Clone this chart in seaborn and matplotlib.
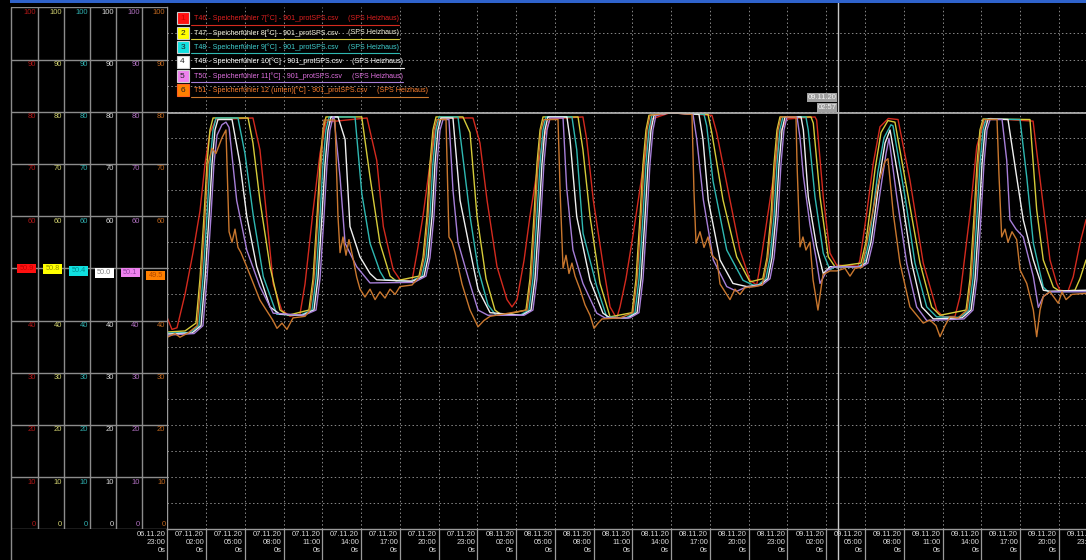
import numpy as np
import pandas as pd
import matplotlib
matplotlib.use("Agg")
import matplotlib.pyplot as plt
import matplotlib.transforms as mtransforms
from matplotlib.patches import Rectangle
import seaborn as sns

# readings taken off the recorder screen
# (hours after 06.11.20 23:00, temperature in degC)
t46 = [(0, 40.5), (0.36, 38.3), (0.75, 38.6), (1.37, 45), (1.99, 53), (2.53, 61), (2.92, 70), (3.30, 76),
       (3.77, 78.5), (6.63, 78.8), (7.17, 72.7), (7.69, 60), (8.20, 47), (8.85, 42), (9.50, 40.8), (10.27, 41.2),
       (10.66, 47), (11.28, 61), (11.82, 72), (12.28, 78), (15.46, 78.8), (16.21, 70.7), (16.72, 58), (17.49, 49.7),
       (18.01, 47.8), (18.94, 47.6), (19.33, 53), (19.79, 60), (20.33, 70), (20.80, 77), (21.18, 78.8), (23.66, 78.8),
       (24.20, 74), (24.75, 63), (25.52, 50.3), (26.29, 44), (26.68, 42.6), (27.07, 44), (27.61, 51.5), (28.07, 60),
       (28.61, 68.5), (29.08, 74.6), (29.62, 78.6), (32.17, 79), (32.46, 74.7), (32.97, 63.1), (33.75, 50.3),
       (34.27, 42.6), (34.78, 40.4), (35.04, 42.6), (35.50, 48), (36.07, 56.7), (36.84, 69.5), (37.49, 78.6),
       (38.91, 79.8), (42.16, 79.3), (42.52, 76), (43.55, 63.1), (44.32, 53.5), (45.10, 47.7), (45.62, 46.8),
       (45.87, 50.3), (46.65, 63.1), (47.42, 75.9), (47.94, 78.6), (50.13, 79), (50.26, 78.4), (50.77, 63.7),
       (51.29, 52.9), (51.81, 50.6), (53.46, 50.4), (53.61, 51.6), (54.13, 60.5), (54.64, 70.1), (55.16, 77.1),
       (55.81, 78.7), (56.56, 78.5), (57.48, 66.9), (58.51, 51), (59.55, 42), (60.06, 40.7), (60.97, 40.8),
       (61.35, 44.6), (62.13, 60.5), (62.65, 73.3), (63.16, 77.8), (63.68, 78.7), (67.01, 78.2), (67.68, 64.4),
       (68.32, 51.6), (68.84, 47.1), (69.09, 45.8), (69.71, 45.6), (70.12, 48.4), (70.64, 54.8), (71.11, 59.3)]

t47 = [(0, 37.8), (1.37, 38.0), (2.22, 39.5), (2.53, 48), (2.84, 60), (3.07, 70), (3.30, 76.5), (3.54, 78.8),
       (6.25, 78.8), (6.63, 74), (7.17, 63), (7.95, 50.3), (8.72, 42), (9.34, 41), (10.96, 42), (11.28, 48),
       (11.59, 60), (11.82, 70), (12.05, 76.5), (12.28, 79), (15.05, 79), (15.69, 67.5), (16.46, 54.8), (17.24, 48.5),
       (17.70, 47.6), (19.48, 48.5), (19.79, 52), (20.10, 60), (20.33, 70), (20.56, 76.5), (20.80, 79), (22.88, 79),
       (23.43, 76), (23.97, 60), (24.67, 48), (25.36, 42), (25.91, 41), (27.76, 42), (28.07, 48), (28.38, 60),
       (28.61, 70), (28.85, 76.5), (29.08, 79), (31.79, 79), (32.17, 72.7), (32.72, 59.9), (33.49, 47.1),
       (34.27, 40.7), (35.97, 41.5), (36.28, 48), (36.59, 60), (36.82, 70), (37.05, 76.5), (37.28, 79.3),
       (38.91, 79.8), (41.85, 79.5), (42.14, 76), (43.01, 63.1), (44.07, 52.2), (45.10, 47.4), (46.09, 48),
       (46.41, 52), (46.72, 60), (46.96, 70), (47.19, 76.5), (47.42, 79), (49.82, 79), (50.00, 77.8), (50.52, 63.7),
       (51.16, 52.2), (51.68, 50.3), (53.69, 51), (54.07, 55), (54.39, 61), (54.78, 69), (55.24, 76), (55.78, 78.3),
       (56.32, 78), (57.35, 63.7), (58.26, 51), (59.16, 42.6), (59.81, 41), (61.82, 42), (62.13, 48), (62.44, 60),
       (62.67, 70), (62.90, 76.5), (63.14, 78.6), (66.77, 78.5), (67.29, 61.2), (67.80, 51.6), (68.58, 46.4),
       (69.09, 45.6), (70.25, 45.8), (70.64, 48), (71.11, 51.6)]

t48 = [(0, 37.6), (1.76, 37.7), (2.45, 39), (2.76, 48), (3.07, 60), (3.30, 70), (3.54, 76.5), (3.77, 78.8),
       (5.47, 78.8), (6.01, 72), (6.66, 60), (7.43, 48.4), (8.47, 41.2), (10.27, 41), (11.20, 42), (11.51, 48),
       (11.82, 60), (12.05, 70), (12.28, 76.5), (12.52, 79), (14.53, 79), (15.05, 64.4), (15.69, 54.8), (16.46, 49.4),
       (16.85, 47.8), (18.79, 47.5), (19.71, 48.5), (20.02, 52), (20.33, 60), (20.56, 70), (20.80, 76.5), (21.03, 79),
       (22.50, 79), (23.43, 60), (24.05, 50), (24.82, 43), (25.44, 41), (27.30, 41), (27.99, 42), (28.30, 48),
       (28.61, 60), (28.85, 70), (29.08, 76.5), (29.31, 79), (31.32, 79), (31.69, 72.7), (32.18, 56.7), (33.24, 46.5),
       (34.01, 40.7), (35.50, 40.5), (36.20, 41.5), (36.51, 48), (36.82, 60), (37.05, 70), (37.28, 76.5),
       (37.51, 79.3), (38.91, 79.8), (41.54, 79.5), (41.75, 77.3), (42.24, 66.7), (43.30, 53.5), (44.56, 47.7),
       (45.33, 46.8), (45.72, 46.8), (46.33, 48), (46.65, 52), (46.96, 60), (47.19, 70), (47.42, 76.5), (47.65, 79),
       (49.43, 79), (49.61, 76.5), (50.13, 63.7), (50.77, 52.9), (51.29, 49.7), (51.68, 50.3), (53.46, 50.3),
       (53.92, 51), (54.31, 55), (54.62, 61), (55.00, 68.5), (55.47, 75), (56.01, 77.5), (56.17, 77.3), (57.10, 63.7),
       (57.87, 51), (58.78, 42.6), (59.55, 40.7), (61.35, 40.6), (62.05, 42), (62.36, 48), (62.67, 60), (62.90, 70),
       (63.14, 76.5), (63.37, 78.6), (66.00, 78.5), (66.52, 67.5), (67.03, 54.8), (67.80, 46.4), (68.19, 45.5),
       (71.11, 45.6)]

t49 = [(0, 37.4), (1.91, 37.6), (2.61, 39), (2.92, 48), (3.23, 60), (3.46, 70), (3.69, 76.5), (3.92, 78.5),
       (5.01, 78.5), (5.63, 70), (6.15, 60), (6.92, 50.3), (7.95, 42.6), (8.72, 41.2), (10.43, 41), (11.35, 42),
       (11.66, 48), (11.97, 60), (12.21, 70), (12.44, 76.5), (12.67, 79), (13.21, 79), (13.76, 74.7), (14.14, 58),
       (14.91, 52.2), (15.69, 49), (16.21, 47.8), (18.94, 47.5), (19.87, 48.5), (20.18, 52), (20.49, 60), (20.72, 70),
       (20.95, 76.5), (21.18, 78.8), (22.11, 78.8), (22.66, 63), (23.43, 53.5), (24.05, 46), (24.98, 41.5),
       (27.45, 41), (28.15, 42), (28.46, 48), (28.77, 60), (29.00, 70), (29.23, 76.5), (29.46, 79), (30.93, 79),
       (31.17, 74.7), (31.69, 59.9), (32.72, 47.7), (33.72, 41.4), (34.27, 40.5), (35.66, 40.5), (36.36, 41.5),
       (36.67, 48), (36.98, 60), (37.21, 70), (37.44, 76.5), (37.67, 79.3), (38.91, 79.8), (41.15, 79.5),
       (41.46, 74.7), (41.87, 63.1), (42.78, 51.6), (43.78, 47.1), (44.85, 46.5), (45.87, 46.8), (46.49, 48),
       (46.80, 52), (47.11, 60), (47.35, 70), (47.58, 76.5), (47.81, 79), (49.05, 79), (49.23, 76.5), (49.61, 63.7),
       (50.26, 54.1), (50.77, 49), (51.29, 50.3), (53.61, 50.3), (54.07, 51), (54.46, 55), (54.77, 60.5),
       (55.16, 68), (55.55, 74), (55.94, 76.5), (56.84, 63.7), (57.62, 51), (58.39, 42.6), (59.29, 40.3),
       (61.51, 40.5), (62.21, 42), (62.52, 48), (62.83, 60), (63.06, 70), (63.29, 76.5), (63.53, 78.6), (65.07, 78.5),
       (65.74, 67.5), (66.25, 59.3), (67.03, 51.6), (67.80, 45.8), (68.32, 45.6), (71.11, 45.8)]

t50 = [(0, 37.2), (2.07, 37.5), (2.76, 39), (3.07, 48), (3.38, 60), (3.61, 70), (3.85, 75.5), (4.23, 77.5),
       (4.54, 78), (4.78, 77), (5.37, 63), (6.15, 53.5), (7.17, 46.5), (8.20, 41.4), (10.58, 41), (11.51, 42),
       (11.82, 48), (12.13, 60), (12.36, 70), (12.59, 76.5), (12.83, 79), (12.90, 79), (13.37, 67.5), (13.76, 54.8),
       (14.66, 50.3), (15.69, 47.2), (19.10, 47.3), (20.02, 48.5), (20.33, 52), (20.64, 60), (20.87, 70),
       (21.11, 76.5), (21.34, 78.5), (21.80, 78.5), (22.11, 65), (22.50, 55), (23.43, 47), (24.05, 42), (24.82, 41),
       (27.61, 41), (28.30, 42), (28.61, 48), (28.92, 60), (29.15, 70), (29.39, 76.5), (29.62, 78.8), (30.63, 78.8),
       (30.91, 65.4), (31.40, 53.5), (32.17, 47.1), (33.24, 41.4), (33.88, 40.5), (35.81, 40.5), (36.51, 41.5),
       (36.82, 48), (37.13, 60), (37.36, 70), (37.59, 76.5), (37.82, 79.3), (38.91, 79.8), (40.69, 79.5),
       (40.98, 74.7), (41.49, 63.1), (42.26, 51.6), (43.30, 46.5), (44.07, 45.6), (44.71, 46.3), (46.03, 46.8),
       (46.65, 48), (46.96, 52), (47.27, 60), (47.50, 70), (47.73, 76.5), (47.96, 79), (48.74, 79), (48.97, 75),
       (49.23, 67.7), (49.74, 58.4), (50.21, 52), (50.52, 47.1), (51.04, 49.5), (51.52, 50.3), (53.77, 50.3),
       (54.23, 51), (54.62, 55), (54.93, 60.5), (55.32, 67), (55.63, 72), (55.86, 74.9), (56.46, 63.7), (57.23, 51),
       (58.00, 42.6), (58.78, 40), (61.66, 40.3), (62.36, 42), (62.67, 48), (62.98, 60), (63.21, 70), (63.44, 76.5),
       (63.68, 78.5), (64.61, 78.5), (64.97, 70.7), (65.22, 59.3), (65.69, 57.5), (66.25, 56), (67.03, 48.4),
       (67.42, 42.5), (67.80, 44.6), (68.32, 45.5), (71.11, 45.5)]

t51 = [(0, 36.8), (0.60, 37.5), (0.98, 36.8), (1.60, 37.6), (2.31, 39), (2.61, 48), (2.92, 60), (3.15, 70),
       (3.46, 73), (3.77, 72), (4.23, 75), (4.54, 76.5), (4.78, 57), (5.01, 55), (5.24, 57.5), (5.47, 54), (5.70, 53),
       (6.15, 50.3), (7.17, 43.9), (8.18, 40), (8.49, 38.5), (8.88, 39.5), (9.26, 38.3), (9.73, 40.5), (10.66, 40.8),
       (11.04, 42), (11.35, 48), (11.66, 60), (11.90, 70), (12.13, 78.4), (12.98, 78.4), (13.21, 60), (13.37, 53),
       (13.60, 56), (13.83, 52.5), (14.06, 55.5), (14.37, 52), (14.66, 48.3), (14.92, 46), (15.30, 44.5), (15.69, 46),
       (16.08, 44), (16.46, 45.5), (16.85, 44.3), (17.24, 46), (17.63, 45), (18.01, 46.5), (18.94, 46.8),
       (19.56, 48.5), (19.87, 52), (20.18, 60), (20.41, 70), (20.64, 76.5), (20.87, 78.5), (21.57, 78.5), (21.80, 56),
       (22.04, 55), (22.27, 53), (22.81, 47), (23.43, 42), (24.05, 38.8), (24.51, 40), (24.98, 40.8), (27.84, 42),
       (28.15, 48), (28.46, 60), (28.69, 70), (28.92, 76.5), (29.15, 78.5), (30.24, 78.5), (30.40, 65), (30.63, 50),
       (30.86, 52.5), (31.09, 49), (31.32, 51), (31.56, 48.5), (31.94, 46), (32.33, 43), (32.72, 41), (33.03, 38.5),
       (33.34, 39.5), (33.65, 40.3), (35.04, 40.5), (36.04, 41.5), (36.36, 48), (36.67, 60), (36.90, 70),
       (37.13, 76.5), (37.36, 79.3), (38.91, 79.8), (40.61, 79.5), (40.76, 65), (40.92, 54.8), (41.23, 57),
       (41.54, 54), (41.85, 56), (42.16, 52.5), (42.55, 51.5), (42.78, 47), (43.17, 45.5), (43.55, 44), (43.94, 46),
       (44.32, 45), (44.71, 46.3), (45.48, 46.5), (46.03, 46.8), (46.17, 48), (46.48, 52), (46.80, 60), (47.04, 70),
       (47.27, 76.5), (47.50, 79), (48.66, 79), (48.74, 70), (48.97, 54.1), (49.20, 56), (49.43, 53.5), (49.74, 55),
       (49.98, 47.8), (50.36, 42), (50.75, 48.8), (51.29, 49.5), (51.83, 49.5), (52.45, 50), (52.84, 48.5),
       (53.23, 50), (53.77, 50.2), (54.15, 55), (54.54, 60), (55.00, 66), (55.55, 70.5), (55.78, 71), (56.19, 60.5),
       (56.71, 51), (57.48, 42.6), (58.51, 39.5), (59.03, 40.1), (59.50, 39), (59.81, 36.9), (60.19, 39),
       (60.58, 40.7), (61.20, 40.5), (61.90, 42), (62.21, 48), (62.52, 60), (62.75, 70), (62.98, 76.5), (63.21, 78.5),
       (64.22, 78.5), (64.37, 68), (64.58, 56), (64.84, 57.5), (65.07, 55), (65.38, 57), (65.74, 55.5), (66.00, 49.7),
       (66.52, 47.1), (67.03, 42), (67.29, 36.9), (67.55, 42), (67.80, 44.6), (68.32, 45.5), (68.96, 43.3),
       (69.25, 45.5), (69.56, 44), (70.02, 45), (71.11, 45.2)]

sensor_keys = ["T46", "T47", "T48", "T49", "T50", "T51"]
sensor_labels = ["T46 - Speicherfühler 7[°C] - 901_protSPS.csv",
                 "T47 - Speicherfühler 8[°C] - 901_protSPS.csv",
                 "T48 - Speicherfühler 9[°C] - 901_protSPS.csv",
                 "T49 - Speicherfühler 10[°C] - 901_protSPS.csv",
                 "T50 - Speicherfühler 11[°C] - 901_protSPS.csv",
                 "T51 - Speicherfühler 12 (unten)[°C] - 901_protSPS.csv"]
source_label = "(SPS Heizhaus)"
line_colors = ["#d42a1e", "#d6cc3a", "#2fb8b2", "#f0f0f0", "#a77fd8", "#c9772e"]
box_colors = ["#ff1010", "#ffff00", "#10e0e0", "#ffffff", "#ee82ee", "#ff8000"]
text_colors = ["#e02020", "#f2f2dc", "#40d0d0", "#ffffff", "#e070e0", "#ff8030"]
scale_colors = ["#b01818", "#d0d070", "#30b0b0", "#d8d8d8", "#b070c0", "#c06820"]
value_text_colors = ["#c00000", "#909000", "#008c8c", "#808080", "#9040a0", "#b04800"]

start_time = pd.Timestamp("2020-11-06 23:00")
cursor_time = pd.Timestamp("2020-11-09 02:57")
cursor_level = 79.7
cursor_readings = [50.9, 50.8, 50.4, 50.0, 50.1, 49.5]
scale_values = list(range(0, 101, 10))
tick_times = pd.date_range("2020-11-06 23:00", "2020-11-09 23:00", freq="3h")

sns.set_theme(style="dark", rc={"axes.facecolor": "black", "figure.facecolor": "black"})
plt.rcParams["font.family"] = ["Liberation Sans Narrow", "Liberation Sans", "DejaVu Sans"]

W, H = 1086, 560
fig = plt.figure(figsize=(W / 100, H / 100), dpi=100)
left_px, bottom_px, top_px = 167.3, 529.3, 7.3
ax = fig.add_axes([left_px / W, (H - bottom_px) / H, 1 - left_px / W, (bottom_px - top_px) / H])
panel = fig.add_axes([0, (H - bottom_px) / H, left_px / W, (bottom_px - top_px) / H])
over = fig.add_axes([0, 0, 1, 1], zorder=5)

# ---- curves
frames = []
for key, pts in zip(sensor_keys, [t46, t47, t48, t49, t50, t51]):
    d = pd.DataFrame(pts, columns=["hours", "temp"])
    d["sensor"] = key
    frames.append(d)
df = pd.concat(frames, ignore_index=True)

sns.lineplot(data=df, x="hours", y="temp", hue="sensor", hue_order=sensor_keys,
             palette=dict(zip(sensor_keys, line_colors)), estimator=None, sort=False,
             legend=False, linewidth=1.0, ax=ax)

ax.set_xlim(0, (W - left_px) / 12.92)
ax.set_ylim(0, 100)
ax.set_facecolor("black")
ax.set_xticks(np.arange(3, 72, 3))
ax.set_yticks(np.arange(5, 100, 5))
ax.tick_params(length=0, labelbottom=False, labelleft=False)
ax.grid(True, color="#8a8a8a", linestyle=(0, (1.5, 2.5)), linewidth=0.7)
ax.set_xlabel("")
ax.set_ylabel("")
for s in ["top", "right"]:
    ax.spines[s].set_visible(False)
for s in ["left", "bottom"]:
    ax.spines[s].set_color("#9a9a9a")
    ax.spines[s].set_linewidth(1.0)

# time labels under the plot
below = mtransforms.blended_transform_factory(ax.transData, ax.transAxes)
drop = 31 / (bottom_px - top_px)
tick_hours = (tick_times - start_time) / pd.Timedelta(hours=1)
for h, ts in zip(tick_hours, tick_times):
    ax.plot([h, h], [0, -drop], transform=below, clip_on=False, color="#9a9a9a", lw=0.9)
    ax.annotate(f"{ts:%d.%m.%y}\n{ts:%H:%M}\n0s", xy=(h, 0), xycoords=("data", "axes fraction"),
                xytext=(-2, -2), textcoords="offset pixels", ha="right", va="top",
                multialignment="right", fontsize=5.5, color="#d8d8d8", linespacing=1.15,
                annotation_clip=False)

# cursor
cursor_h = (cursor_time - start_time) / pd.Timedelta(hours=1)
ax.plot([cursor_h, cursor_h], [-drop, 1 + top_px / (bottom_px - top_px)], transform=below,
        clip_on=False, color="#c8c8c8", lw=1.0, zorder=4)
ax.axhline(cursor_level, color="#b8b8b8", lw=1.2, zorder=4)
ax.annotate(f"{cursor_time:%d.%m.%y}", xy=(cursor_h, cursor_level), xytext=(-2, 12),
            textcoords="offset pixels", ha="right", va="bottom", fontsize=5.5, color="#f4f4f4",
            bbox=dict(boxstyle="square,pad=0.12", fc="#a0a0a0", ec="none"), zorder=6)
ax.annotate(f"{cursor_time:%H:%M}", xy=(cursor_h, cursor_level), xytext=(-2, 2),
            textcoords="offset pixels", ha="right", va="bottom", fontsize=5.5, color="#f4f4f4",
            bbox=dict(boxstyle="square,pad=0.12", fc="#a0a0a0", ec="none"), zorder=6)

# ---- left scale panel
panel.set_xlim(0, left_px)
panel.set_ylim(0, 100)
panel.axis("off")
panel.add_patch(Rectangle((0, 0), left_px, 100, fc="black", ec="none", zorder=0))
col_rights = [38.3 + 25.83 * k for k in range(6)]
panel.hlines(scale_values, 11, left_px, color="#8c8c8c", lw=1.0)
panel.plot([11, 11], [-31 / 5.22, 100], color="#8c8c8c", lw=1.0, clip_on=False)
panel.vlines(col_rights[:-1], 0, 100, color="#8c8c8c", lw=1.0)
for k, xr in enumerate(col_rights):
    lvl = cursor_readings[k]
    for val in scale_values:
        if abs(val - lvl) < 3:
            continue  # covered by the reading box
        if val == 0:
            panel.text(xr - 2, val + 0.3, str(val), ha="right", va="bottom", fontsize=5.5, color=scale_colors[k])
        else:
            panel.text(xr - 2, val - 0.3, str(val), ha="right", va="top", fontsize=5.5, color=scale_colors[k])
    panel.add_patch(Rectangle((xr - 21, lvl - 1.8), 19, 1.8, fc=box_colors[k], ec="none", zorder=3))
    panel.text(xr - 11.5, lvl - 0.9, f"{lvl:.1f}", ha="center", va="center", fontsize=5.3,
               color=value_text_colors[k], zorder=4)

# ---- overlay: legend and window edge
over.set_xlim(0, W)
over.set_ylim(H, 0)
over.axis("off")
over.patch.set_alpha(0)
over.add_patch(Rectangle((10, 0), W - 10, 2.6, fc="#2f63cc", ec="none"))

row_y = [18.3, 32.8, 47.2, 61.6, 76.0, 90.4]
main_texts = []
for i, lab in enumerate(sensor_labels):
    y = row_y[i]
    edge = "#ff6020" if i == 5 else "#d0d0d0"
    over.add_patch(Rectangle((176.5, y - 6), 12, 12, fc=box_colors[i], ec=edge, lw=0.8))
    over.text(182.5, y + 0.3, str(i + 1), ha="center", va="center", fontsize=6,
              color="#d00000" if i == 0 else "#202020")
    main_texts.append(over.text(194, y, lab, ha="left", va="center", fontsize=5.1, color=text_colors[i]))

fig.canvas.draw()
renderer = fig.canvas.get_renderer()
for i, t in enumerate(main_texts):
    bb = t.get_window_extent(renderer)
    y = row_y[i]
    src = over.text(bb.x1 + 10, y, source_label, ha="left", va="center", fontsize=5.1, color=text_colors[i])
    sb = src.get_window_extent(renderer)
    over.plot([191, sb.x1], [y + 6.2, y + 6.2], color=line_colors[i], lw=0.8)

fig.savefig("out.png", dpi=100, facecolor="black")
